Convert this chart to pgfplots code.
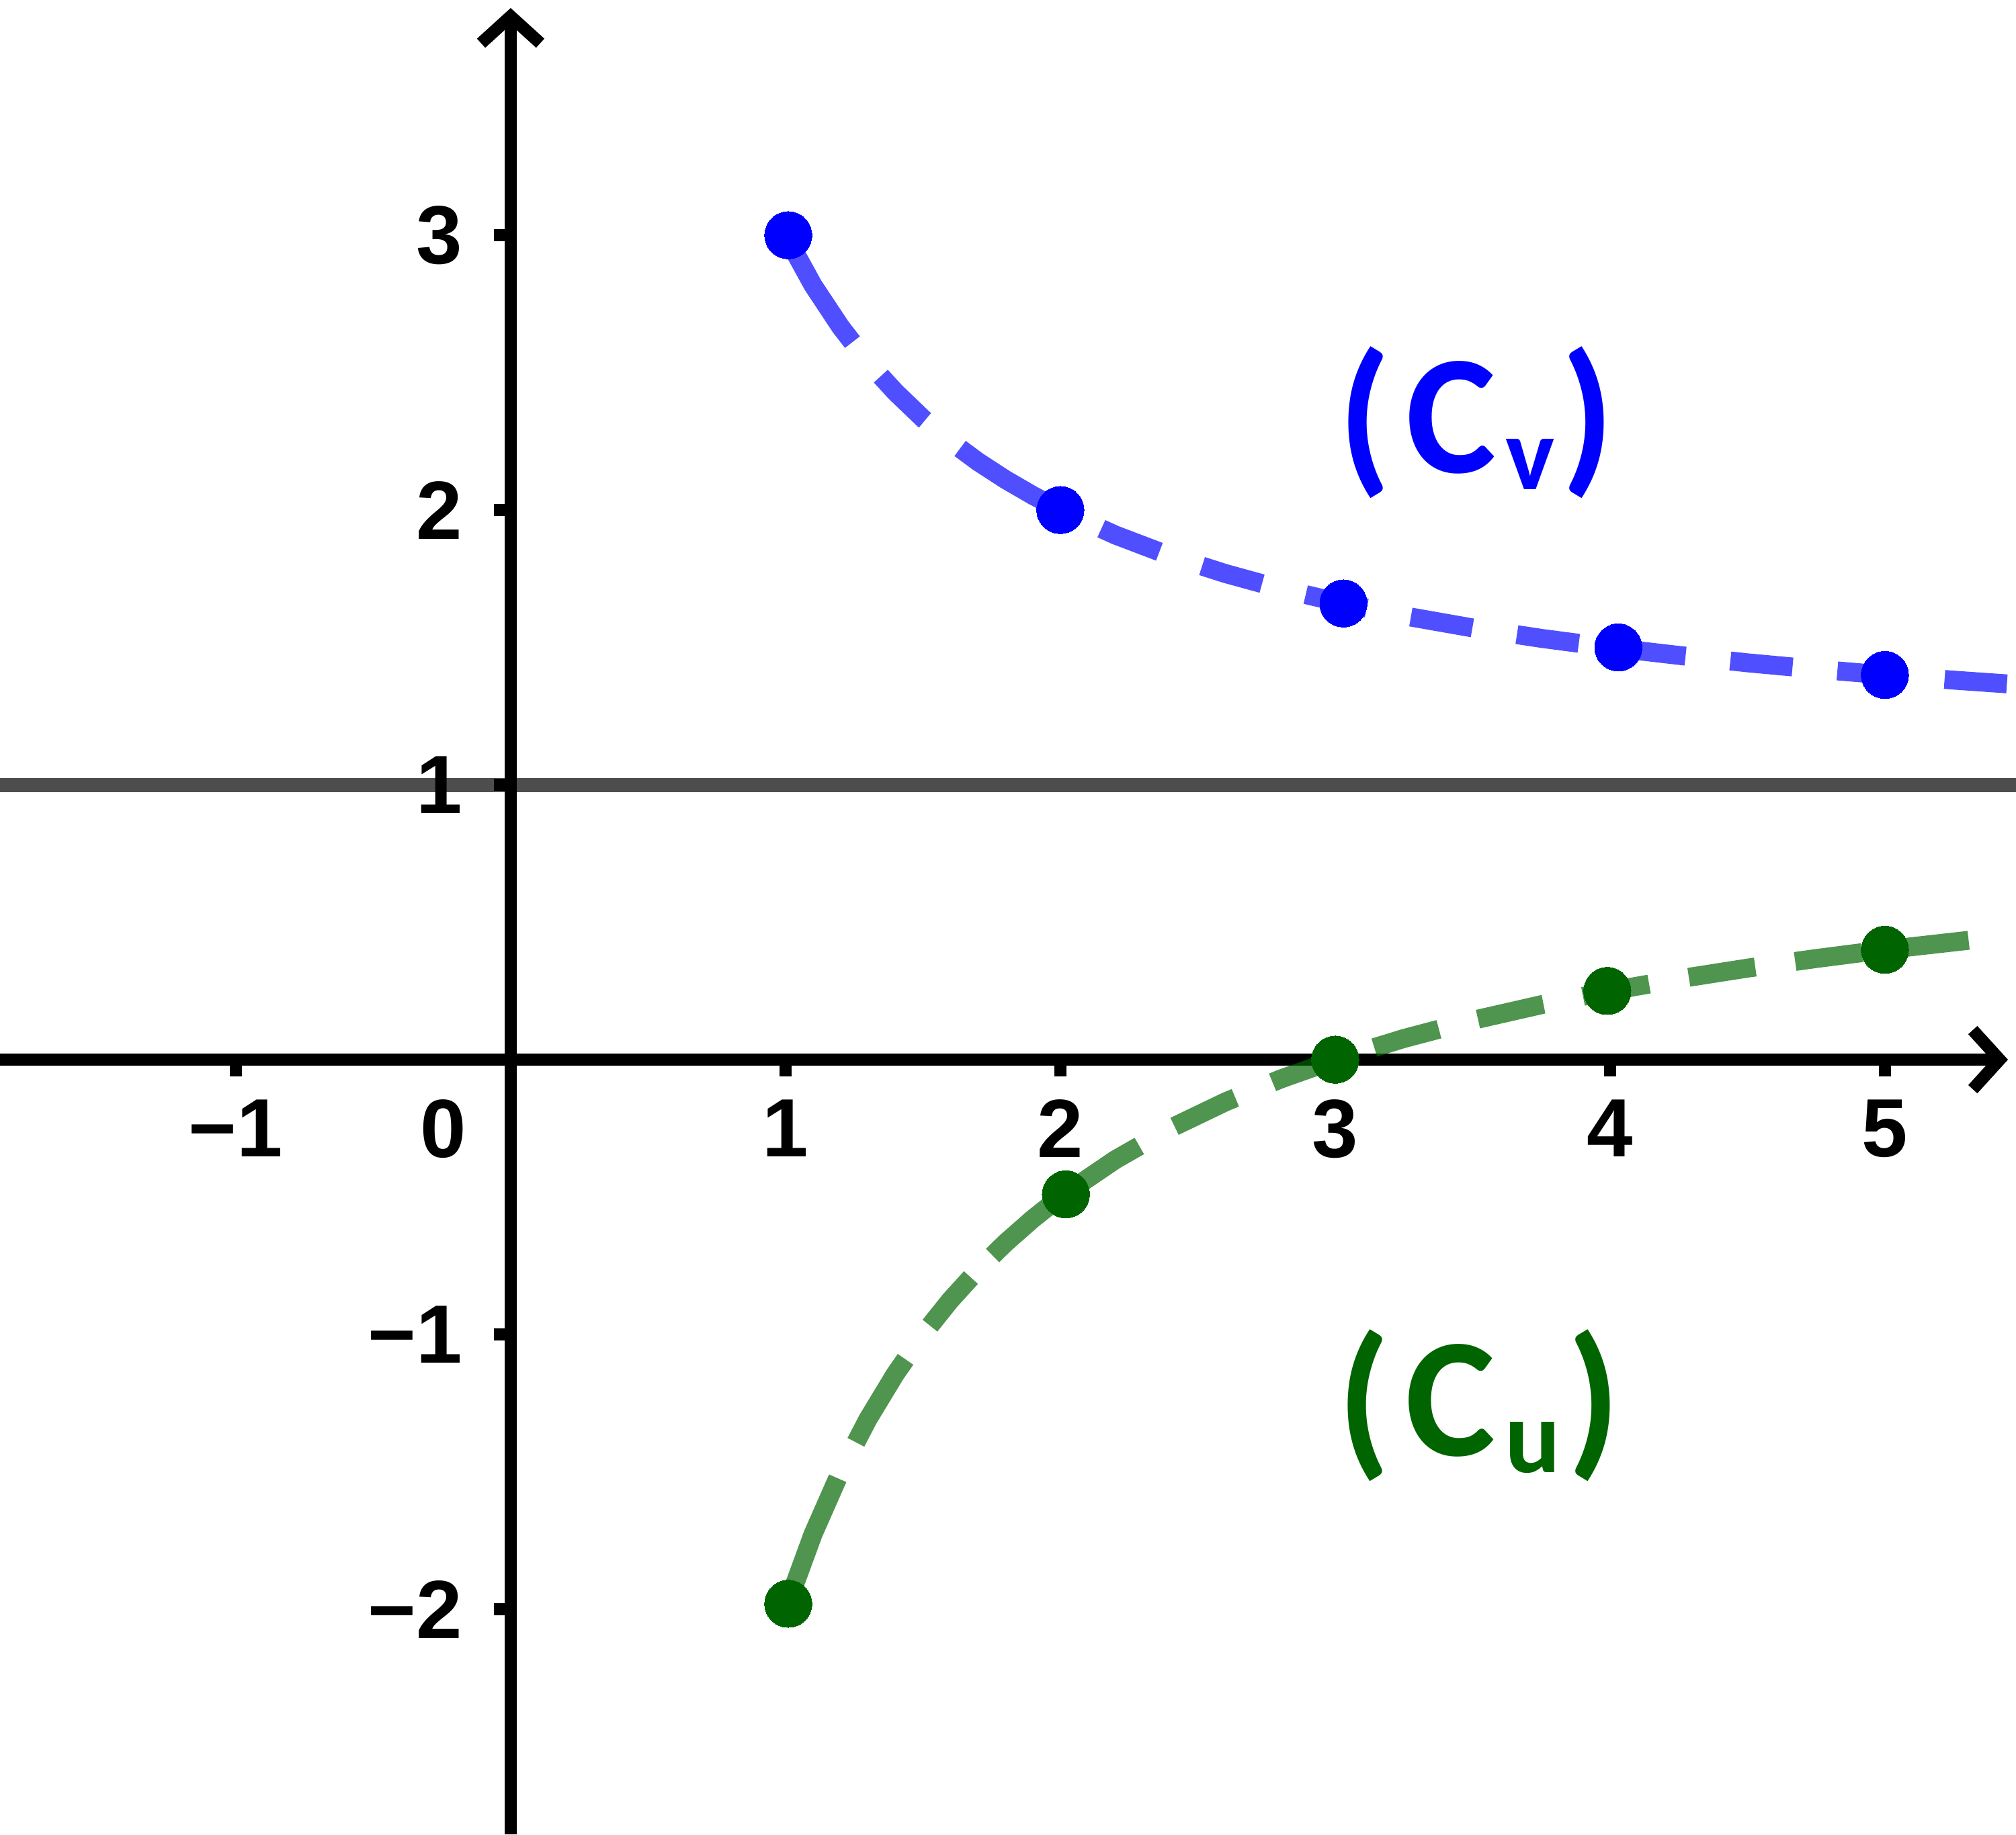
\documentclass[border=0pt]{standalone}
\usepackage{fontspec}
\setmainfont{Liberation Sans}
\newfontfamily\carlito{Carlito}
\usepackage{pgfplots}
\pgfplotsset{compat=1.18}
\usetikzlibrary{arrows.meta}
\definecolor{cblue}{RGB}{0,0,255}
\definecolor{cgreen}{RGB}{0,100,0}
\definecolor{hline}{RGB}{77,77,77}

\begin{document}
\begin{tikzpicture}
\begin{axis}[
  set layers=standard,
  scale only axis,
  width=15cm, height=13.65cm,
  xmin=-1.858, xmax=5.477, ymin=-2.819, ymax=3.856,
  axis lines=middle,
  axis line style={black, line width=2.6pt},
  x axis line style={-{Straight Barb[length=0.2cm,width=0.44cm]}, shorten >=0.06cm},
  y axis line style={-{Straight Barb[length=0.2cm,width=0.44cm]}, shorten >=0.06cm},
  xtick={-1,1,2,3,4,5}, xticklabels={−1,1,2,3,4,5},
  ytick={-2,-1,1,2,3}, yticklabels={−2,−1,1,2,3},
  minor tick num=0,
  tick align=outside, major tick length=0.125cm,
  tick style={black, line width=2.6pt},
  ticklabel style={font=\bfseries\fontsize{17.5}{19}\selectfont, inner sep=0pt},
  xticklabel style={anchor=north, yshift=-0.165cm},
  yticklabel style={anchor=east, xshift=-0.23cm},
  clip=false,
]
\coordinate (bbsw) at (axis cs:-1.858,-2.819);
\coordinate (bbne) at (axis cs:5.477,3.856);

% horizontal line y = 1
\addplot[hline, line width=3pt, on layer=axis background] coordinates {(-1.858,1) (5.477,1)};

% curve (C_v), piece 1..2
\addplot[cblue, draw opacity=0.69, line width=4pt, dash pattern=on 0.94cm off 0.33cm on 0.465cm off 0.335cm on 3cm off 0.1cm] coordinates {
(1,3) (1.1,2.818) (1.2,2.667) (1.3,2.538) (1.4,2.429) (1.5,2.333) (1.6,2.25) (1.7,2.176) (1.8,2.111) (1.9,2.053) (2,2)};
% curve (C_v), piece 2..5.45
\addplot[cblue, draw opacity=0.69, line width=4pt, dash pattern=on 0.465cm off 0.335cm, dash phase=0.465cm] coordinates {
(2,2) (2.2,1.909) (2.4,1.833) (2.6,1.769) (2.8,1.714) (3,1.667) (3.25,1.615) (3.5,1.571) (3.75,1.533)
(4,1.5) (4.25,1.471) (4.5,1.444) (4.75,1.421) (5,1.4) (5.25,1.381) (5.45,1.367)};

% curve (C_u), piece 1..2
\addplot[cgreen, draw opacity=0.69, line width=4pt, dash pattern=on 1.05cm off 0.3cm on 0.72cm off 0.31cm on 0.47cm off 0.23cm on 3cm off 0.1cm] coordinates {
(1,-2) (1.1,-1.727) (1.2,-1.5) (1.3,-1.308) (1.4,-1.143) (1.5,-1) (1.6,-0.875) (1.7,-0.765) (1.8,-0.667) (1.9,-0.579) (2,-0.5)};
% curve (C_u), piece 2..5.32
\addplot[cgreen, draw opacity=0.69, line width=4pt, dash pattern=on 0.5cm off 0.3cm, dash phase=0.6cm] coordinates {
(2,-0.5) (2.2,-0.364) (2.4,-0.25) (2.6,-0.154) (2.8,-0.071) (3,0) (3.25,0.077) (3.5,0.143) (3.75,0.2)
(4,0.25) (4.25,0.294) (4.5,0.333) (4.75,0.368) (5,0.4) (5.32,0.436)};

% points v_n
\addplot[only marks, mark=*, mark size=5pt, mark options={fill=cblue, draw=cblue, line width=0pt}] coordinates {
(1.01,3) (2,2) (3.03,1.66) (4.03,1.5) (5,1.4)};

% points u_n
\addplot[only marks, mark=*, mark size=5pt, mark options={fill=cgreen, draw=cgreen, line width=0pt}] coordinates {
(1.01,-1.98) (2.02,-0.49) (3,0) (3.99,0.25) (5,0.4)};

\node[anchor=north, inner sep=0pt, font=\bfseries\fontsize{17.5}{19}\selectfont] at (axis cs:-0.244,0) [yshift=-0.29cm] {0};

\node[text=cblue, inner sep=0pt, font=\carlito\bfseries\fontsize{36}{40}\selectfont] at (axis cs:3.514,2.318)
  {(\hspace{0.11cm}C\hspace{0.07cm}\raisebox{-0.125cm}{\fontsize{22}{24}\selectfont v}\hspace{0.05cm})};
\node[text=cgreen, inner sep=0pt, font=\carlito\bfseries\fontsize{36}{40}\selectfont] at (axis cs:3.523,-1.259)
  {(\hspace{0.11cm}C\hspace{0.07cm}\raisebox{-0.125cm}{\fontsize{22}{24}\selectfont u}\hspace{0.05cm})};
\end{axis}
\pgfresetboundingbox
\useasboundingbox (bbsw) rectangle (bbne);
\end{tikzpicture}
\end{document}
